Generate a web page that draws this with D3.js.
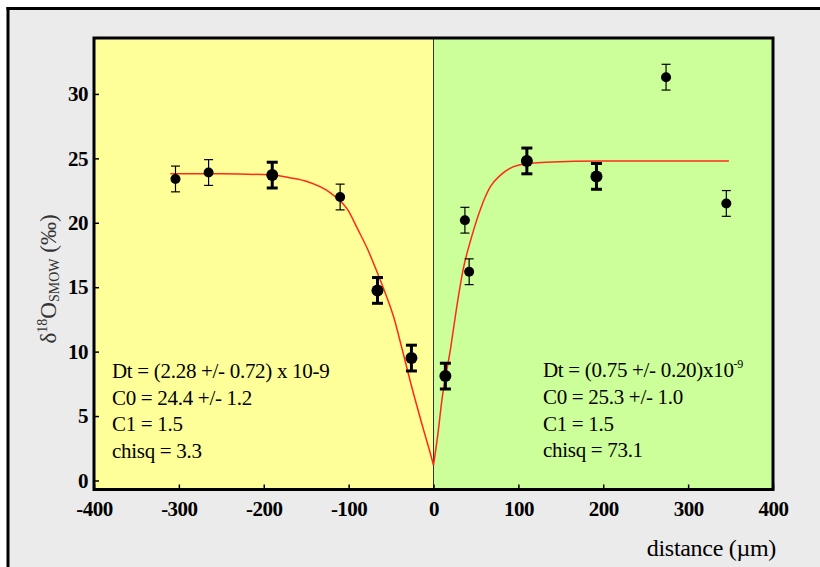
<!DOCTYPE html>
<html>
<head>
<meta charset="utf-8">
<script src="https://cdn.jsdelivr.net/npm/d3@7"></script>
<style>
  body { margin: 0; background: #fff; }
  svg text { font-family: "Liberation Serif", "DejaVu Serif", serif; }
</style>
</head>
<body>
<svg id="chart" width="820" height="567"></svg>
<script>
"use strict";

// measured points, left (yellow) side of the interface
const leftX = [-304, -265, -190, -110, -66, -26];
const leftY = [23.4, 23.9, 23.7, 22.0, 14.75, 9.5];
const leftErr = [1.0, 1.0, 1.0, 1.0, 1.0, 1.0];
const leftHeavy = [false, false, true, false, true, true];

// measured points, right (green) side
const rightX = [14, 37, 42, 110, 192, 274, 345];
const rightY = [8.1, 20.2, 16.2, 24.8, 23.6, 31.3, 21.5];
const rightErr = [1.0, 1.0, 1.0, 1.0, 1.0, 1.0, 1.0];
const rightHeavy = [true, false, false, true, true, false, false];

// fitted curves
const fitLeftX = [-310, -250, -190, -170, -149, -121, -100, -90, -78, -66, -56, -47, -37, -27, -12, -5, 0];
const fitLeftY = [23.8, 23.8, 23.7, 23.5, 23.2, 22.3, 20.9, 19.6, 18.0, 16.1, 14.4, 12.7, 10.2, 7.6, 4.0, 2.4, 1.2];
const fitRightX = [0, 5, 10, 20, 27, 35, 44, 55, 67, 79, 102, 132, 200, 348];
const fitRightY = [1.2, 3.5, 6.3, 10.2, 13.3, 16.4, 18.7, 21.0, 22.8, 23.7, 24.5, 24.7, 24.8, 24.8];

const xTicks = [-400, -300, -200, -100, 0, 100, 200, 300, 400];
const yTicks = [0, 5, 10, 15, 20, 25, 30];

const leftNotes = ["Dt = (2.28 +/- 0.72) x 10-9", "C0 = 24.4 +/- 1.2", "C1 = 1.5", "chisq = 3.3"];
const rightNotes = ["C0 = 25.3 +/- 1.0", "C1 = 1.5", "chisq = 73.1"];

const margin = { left: 94, top: 38, right: 773, bottom: 489.5 };

const svg = d3.select("#chart");

// grey page with black frame lines on top and left
svg.append("rect").attr("x", 8).attr("y", 8).attr("width", 812).attr("height", 559).attr("fill", "#ebebeb");
svg.append("line").attr("x1", 6.5).attr("x2", 820).attr("y1", 8.5).attr("y2", 8.5).attr("stroke", "#000").attr("stroke-width", 3);
svg.append("line").attr("x1", 8).attr("x2", 8).attr("y1", 7).attr("y2", 567).attr("stroke", "#000").attr("stroke-width", 3);

const x = d3.scaleLinear().domain([-400, 400]).range([margin.left, margin.right]);
const y = d3.scaleLinear().domain([-0.7, 34.34]).range([margin.bottom, margin.top]);

// two coloured halves
svg.append("rect").attr("x", x(-400)).attr("y", margin.top)
  .attr("width", x(0) - x(-400)).attr("height", margin.bottom - margin.top).attr("fill", "#ffff99");
svg.append("rect").attr("x", x(0)).attr("y", margin.top)
  .attr("width", x(400) - x(0)).attr("height", margin.bottom - margin.top).attr("fill", "#ccff99");
svg.append("line").attr("x1", x(0)).attr("x2", x(0)).attr("y1", margin.top).attr("y2", margin.bottom)
  .attr("stroke", "#333").attr("stroke-width", 1);

// axes, ticks pointing inward; plain hyphen for negatives
const fmt = d => String(d);
const axisB = svg.append("g").attr("transform", "translate(0," + margin.bottom + ")")
  .call(d3.axisBottom(x).tickValues(xTicks).tickSize(-5).tickPadding(12).tickFormat(fmt));
const axisL = svg.append("g").attr("transform", "translate(" + margin.left + ",0)")
  .call(d3.axisLeft(y).tickValues(yTicks).tickSize(-5).tickPadding(6).tickFormat(fmt));
for (let ax of [axisB, axisL]) {
  ax.select(".domain").remove();
  ax.selectAll("line").attr("stroke", "#000").attr("stroke-width", 1.5);
  ax.selectAll("text").attr("fill", "#000").attr("font-size", 21).attr("font-weight", "bold")
    .attr("font-family", "Liberation Serif").attr("letter-spacing", -0.5);
}

// plot border
svg.append("rect").attr("x", margin.left).attr("y", margin.top)
  .attr("width", margin.right - margin.left).attr("height", margin.bottom - margin.top)
  .attr("fill", "none").attr("stroke", "#000").attr("stroke-width", 3);

// fitted curves
const line = d3.line().x(d => x(d[0])).y(d => y(d[1])).curve(d3.curveMonotoneX);
svg.append("path").datum(d3.zip(fitLeftX, fitLeftY)).attr("d", line)
  .attr("fill", "none").attr("stroke", "#ff2a1a").attr("stroke-width", 1.5);
svg.append("path").datum(d3.zip(fitRightX, fitRightY)).attr("d", line)
  .attr("fill", "none").attr("stroke", "#ff2a1a").attr("stroke-width", 1.5);

// points with error bars
const points = d3.zip(leftX.concat(rightX), leftY.concat(rightY), leftErr.concat(rightErr), leftHeavy.concat(rightHeavy));
const pt = svg.selectAll("g.pt").data(points).enter().append("g").attr("class", "pt");
pt.append("line").attr("x1", d => x(d[0])).attr("x2", d => x(d[0]))
  .attr("y1", d => y(d[1] - d[2])).attr("y2", d => y(d[1] + d[2]))
  .attr("stroke", "#000").attr("stroke-width", d => d[3] ? 3 : 1.2);
for (let s of [-1, 1]) {
  pt.append("line").attr("x1", d => x(d[0]) - (d[3] ? 5.5 : 4.5)).attr("x2", d => x(d[0]) + (d[3] ? 5.5 : 4.5))
    .attr("y1", d => y(d[1] + s * d[2])).attr("y2", d => y(d[1] + s * d[2]))
    .attr("stroke", "#000").attr("stroke-width", d => d[3] ? 3 : 1.2);
}
pt.append("circle").attr("cx", d => x(d[0])).attr("cy", d => y(d[1]))
  .attr("r", d => d[3] ? 6 : 5).attr("fill", "#000");

// fit annotations
const noteL = svg.append("g").attr("font-size", 21).attr("fill", "#000").attr("letter-spacing", -0.3);
leftNotes.forEach((t, i) => {
  noteL.append("text").attr("x", 112).attr("y", 378 + i * 26.7).text(t);
});
const noteR = svg.append("g").attr("font-size", 21).attr("fill", "#000").attr("letter-spacing", -0.3);
const dt = noteR.append("text").attr("x", 543).attr("y", 377);
dt.append("tspan").text("Dt = (0.75 +/- 0.20)x10");
dt.append("tspan").attr("font-size", 12).attr("dy", -9).text("-9");
rightNotes.forEach((t, i) => {
  noteR.append("text").attr("x", 543).attr("y", 404 + i * 26.7).text(t);
});

// axis titles
svg.append("text").attr("x", 776).attr("y", 556).attr("text-anchor", "end")
  .attr("font-size", 24).attr("fill", "#000").attr("letter-spacing", -0.3).text("distance (\u00b5m)");

const yl = svg.append("text").attr("transform", "translate(56,279) rotate(-90)")
  .attr("text-anchor", "middle").attr("font-size", 23).attr("fill", "#333");
yl.append("tspan").text("\u03b4");
yl.append("tspan").attr("font-size", 14).attr("dy", -9).text("18");
yl.append("tspan").attr("dy", 9).text("O");
yl.append("tspan").attr("font-size", 14).attr("dy", 3).text("SMOW");
yl.append("tspan").attr("dy", -3).text(" (\u2030)");
</script>
</body>
</html>
